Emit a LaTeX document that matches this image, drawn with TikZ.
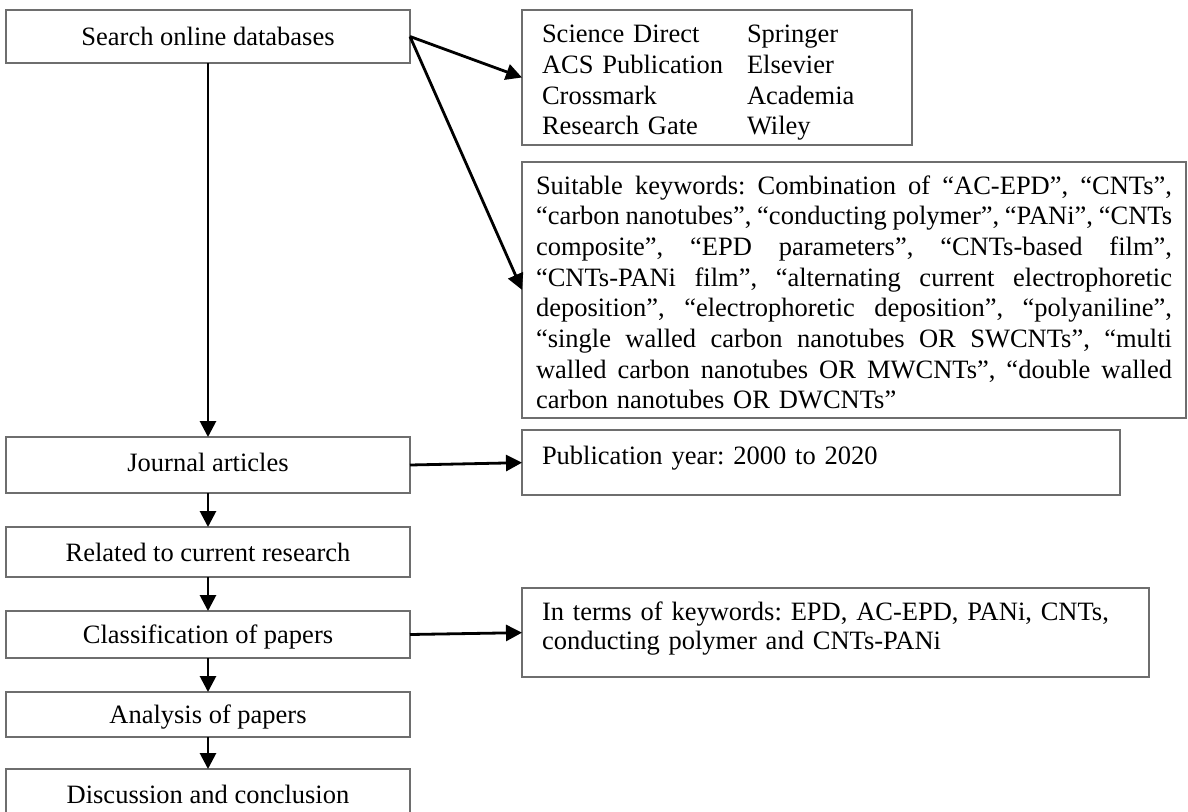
\documentclass[tikz,border=0pt]{standalone}
\usepackage{fontspec}
\setmainfont{Liberation Serif}
\usetikzlibrary{positioning,arrows.meta}
\definecolor{myframe}{RGB}{110,110,110}
\newlength\mygap
\setlength\mygap{34pt}
\newlength\mylinew
\setlength\mylinew{636pt}
\newcommand\fullline[1]{\leavevmode\hbox to\mylinew{\spaceskip=0.21em plus 1em minus 0.1em\relax #1}\\}
\frenchspacing

\begin{document}
\begin{tikzpicture}[x=1pt,y=1pt,node distance=\mygap,outer sep=0pt,
		font=\fontsize{26.5pt}{30.7pt}\selectfont\frenchspacing,
		stepb/.style={
		  draw=myframe,
		  line width=1.9pt,
		  minimum width=404pt,
		  inner sep=0pt,
		  text height=21pt,
		  text depth=3pt,
		  align=center},
		infob/.style={
		  draw=myframe,
		  line width=1.9pt,
		  inner xsep=20pt,
		  inner ysep=0pt,
		  align=left},
		arr/.style={line width=2.8pt,-{Triangle[length=16pt,width=16pt]}},
		]
		\useasboundingbox (0,0) rectangle (1188,-811);
		% left column
		\node[stepb,minimum height=53pt] (srch) at (208,-36.5) {Search online databases};
		\node[stepb,minimum height=56pt,text height=18pt,text depth=6pt,below=374pt of srch] (jrnl) {Journal articles};
		\node[stepb,minimum height=50pt,below=of jrnl] (rel) {Related to current research};
		\node[stepb,minimum height=47pt,below=of rel] (cls) {Classification of papers};
		\node[stepb,minimum height=45pt,below=of cls] (ana) {Analysis of papers};
		\node[stepb,minimum height=50pt,below=32pt of ana] (disc) {Discussion and conclusion};
		% right column
		\node[infob,text width=350pt,text height=32.6pt,text depth=102.4pt,
		  right=112pt of srch.north east,anchor=north west] (db) {%
		  \begin{tabular}[t]{@{}p{205pt}@{}l@{}}
		  Science Direct & Springer\\
		  ACS Publication & Elsevier\\
		  Crossmark & Academia\\
		  Research Gate & Wiley
		  \end{tabular}};
		\node[infob,inner xsep=14pt,text width=\mylinew,text height=32.3pt,text depth=224pt,
		  below=16.7pt of db.south west,anchor=north west] (kw) {%
		  \fullline{Suitable keywords: Combination of “AC-EPD”, “CNTs”,}%
		  \fullline{“carbon nanotubes”, “conducting polymer”, “PANi”, “CNTs}%
		  \fullline{composite”, “EPD parameters”, “CNTs-based film”,}%
		  \fullline{“CNTs-PANi film”, “alternating current electrophoretic}%
		  \fullline{deposition”, “electrophoretic deposition”, “polyaniline”,}%
		  \fullline{“single walled carbon nanotubes OR SWCNTs”, “multi}%
		  \fullline{walled carbon nanotubes OR MWCNTs”, “double walled}%
		  carbon nanotubes OR DWCNTs”};
		\node[infob,text width=558pt,text height=34.3pt,text depth=31pt,
		  below=12pt of kw.south west,anchor=north west] (pub) {Publication year: 2000 to 2020};
		\node[infob,text width=587pt,text height=32.4pt,text depth=56.3pt,
		  font=\fontsize{26.5pt}{28.3pt}\selectfont,
		  below=93pt of pub.south west,anchor=north west] (terms)
		  {In terms of keywords: EPD, AC-EPD, PANi, CNTs,\\ conducting polymer and CNTs-PANi};
		% connectors
		\draw[arr] (srch.east) -- (db.west);
		\draw[arr] (srch.east) -- (kw.west);
		\draw[arr] (srch) -- (jrnl);
		\draw[arr] (jrnl.east) -- (pub.west);
		\draw[arr] (jrnl) -- (rel);
		\draw[arr] (rel) -- (cls);
		\draw[arr] (cls.east) -- (terms.west);
		\draw[arr] (cls) -- (ana);
		\draw[arr] (ana) -- (disc);
		\end{tikzpicture}
\end{document}
